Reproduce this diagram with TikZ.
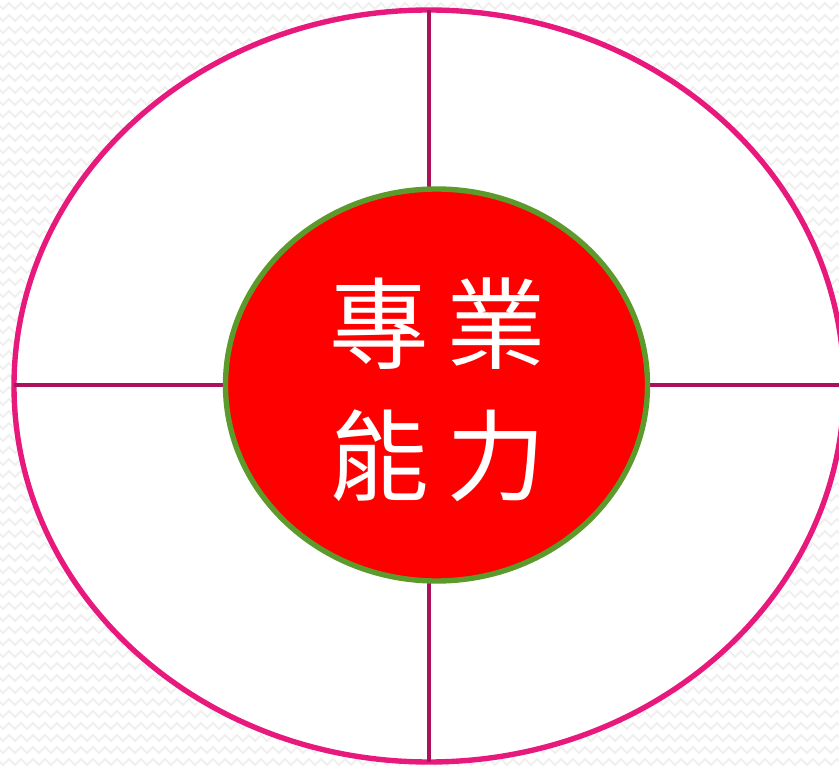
\documentclass[tikz,border=0pt]{standalone}
\usepackage{fontspec}
\newfontfamily\cjkfont{Noto Sans CJK TC}
\usetikzlibrary{decorations.pathmorphing}
\definecolor{ringpink}{HTML}{E8197D}
\definecolor{coregreen}{HTML}{5C9A2B}
\definecolor{spokeplum}{HTML}{AC115C}
\tikzset{
    % Faint zigzag wallpaper behind the rings
    wallpaper/.style={draw=black!6, line width=1.6pt,
        decorate, decoration={zigzag, segment length=0.36cm, amplitude=0.09cm}},
%
    % The large outer ring
    outer ring/.style={draw=ringpink, fill=white, line width=4.6pt},
%
    % The core behind the label
    core/.style={draw=coregreen, fill=red, line width=4.6pt},
%
    % Dividing spokes
    spoke/.style={draw=spokeplum, line width=3pt}}

\begin{document}
\begin{tikzpicture}[x=0.03cm, y=-0.03cm]

\tikzset{
    every node/.style={align=center}}

\useasboundingbox (0,0) rectangle (839,766);
\begin{scope}
\clip (0,0) rectangle (839,766);
\fill[white] (0,0) rectangle (839,766);
\foreach \row in {6,18,...,770}
    \path[wallpaper] (-6,\row) -- (850,\row);

\path[outer ring] (429,386) ellipse [x radius=415, y radius=376];
\coordinate (outer north) at (429,10);
\coordinate (outer south) at (429,762);
\coordinate (outer west) at (14,385);
\coordinate (outer east) at (845,385);

\draw[spoke] (outer north) -- (outer south);
\draw[spoke] (outer west) -- (outer east);

\path[core] (436.5,385) ellipse [x radius=211, y radius=196];
\end{scope}

\node (label) [text=white, font=\cjkfont\fontsize{85}{113}\selectfont]
    at (438,390) {專\hspace{0.18em}業\\能\hspace{0.18em}力};

\end{tikzpicture}
\end{document}
